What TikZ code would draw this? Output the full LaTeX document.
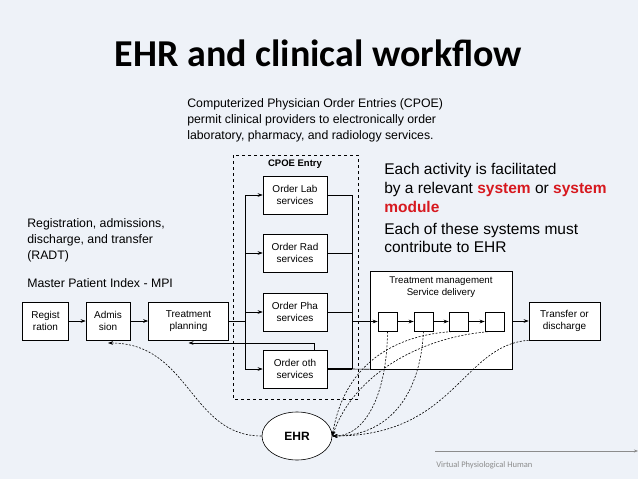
\documentclass[tikz,border=0pt]{standalone}
\usepackage{fontspec}
\setmainfont{Liberation Sans}
\newfontfamily\slidefont{Carlito}
\usepackage{xcolor}
\definecolor{slidebg}{HTML}{EEF2F8}
\definecolor{hilite}{HTML}{D7191F}
\definecolor{footgrey}{HTML}{8C8C8C}
\usetikzlibrary{positioning,calc,arrows.meta,shapes.geometric}

\begin{document}
\begin{tikzpicture}[x=1pt,y=-1pt,line width=0.6pt,
  box/.style={draw,fill=white,minimum height=38pt,align=center,inner sep=1pt,font=\fontsize{10}{12}\selectfont},
  sq/.style={draw,fill=white,minimum width=19pt,minimum height=19pt,inner sep=0pt},
  arr/.style={-{Stealth[length=5pt,width=3.6pt]}},
  link/.style={dash pattern=on 2pt off 1.5pt,-{Stealth[length=5pt,width=3.6pt]}},
  txt/.style={align=left,inner sep=0pt,anchor=north west,font=\fontsize{12.3}{16.3}\selectfont}]
  \useasboundingbox (0,0) rectangle (638,479);
  \fill[slidebg] (0,0) rectangle (638,479);

  % headings and notes
  \node[anchor=base,font=\slidefont\bfseries\fontsize{38}{40}\selectfont] (title) at (318.5,66) {EHR and clinical workflow};
  \node[txt] (cpoenote) at (187,98) {Computerized Physician Order Entries (CPOE)\\permit clinical providers to electronically order\\laboratory, pharmacy, and radiology services.};
  \node[txt] (radt) at (27,218) {Registration, admissions,\\discharge, and transfer\\(RADT)};
  \node[txt,anchor=base west] (mpi) at (27,287) {Master Patient Index - MPI};
  \node[txt,font=\fontsize{15.5}{19}\selectfont] (facil) at (384,162.7) {Each activity is facilitated\\by a relevant \textcolor{hilite}{\bfseries system} or \textcolor{hilite}{\bfseries system}\\\textcolor{hilite}{\bfseries module}};
  \node[txt,font=\fontsize{15.5}{18.5}\selectfont] (contrib) at (384,222.7) {Each of these systems must\\contribute to EHR};

  % CPOE frame
  \draw[dashed,line width=0.5pt] (233,155) rectangle (358,399);
  \node[anchor=base,font=\bfseries\fontsize{9.5}{11}\selectfont] (cpoelbl) at (295,166) {CPOE Entry};

  % workflow boxes
  \node[box,minimum width=46pt] (reg) at (45.5,321) {Regist\\ration};
  \node[box,minimum width=44pt] (adm) at (108,321) {Admis\\sion};
  \node[box,minimum width=80pt] (tp) at (188.5,321) {Treatment\\planning};
  \node[box,minimum width=64pt] (lab) at (295,195) {Order Lab\\services};
  \node[box,minimum width=64pt] (rad) at (295,253) {Order Rad\\services};
  \node[box,minimum width=64pt] (pha) at (295,312) {Order Pha\\services};
  \node[box,minimum width=64pt] (oth) at (295,369) {Order oth\\services};
  \node[draw,fill=white,minimum width=142pt,minimum height=98pt] (tm) at (441,320) {};
  \node[anchor=north,align=center,inner sep=0pt,font=\fontsize{9.7}{12}\selectfont] (tmlbl) at (441,277) {Treatment management\\Service delivery};
  \foreach \n/\x in {b1/387.5,b2/423.5,b3/458.5,b4/494.5}
    \node[sq] (\n) at (\x,321.5) {};
  \node[box,minimum width=71pt] (tr) at (564.5,321) {Transfer or\\discharge};
  \node[draw,fill=white,ellipse,minimum width=70pt,minimum height=48pt,font=\bfseries\fontsize{12}{14}\selectfont] (ehr) at (297,436) {EHR};

  % buses
  \coordinate (lbus) at (245,0);
  \coordinate (rbus) at (352,0);
  \coordinate (back) at (314,343);

  \draw[arr] (reg) -- (adm);
  \draw[arr] (adm) -- (tp);
  \draw (tp.east) -- (tp.east -| lbus);
  \draw (lab.west -| lbus) -- (oth.west -| lbus);
  \foreach \o in {lab,rad,pha,oth} \draw[arr] (\o.west -| lbus) -- (\o.west);
  \foreach \o in {lab,rad,pha} \draw (\o.east) -- (\o.east -| rbus);
  \draw (lab.east -| rbus) -- (oth.east -| rbus);
  \draw[line width=1.4pt] (oth.east) -- (oth.east -| rbus);
  \draw (oth.east -| rbus) -- (tm.south west);
  \draw[arr] (b1.west -| rbus) -- (b1.west);
  \foreach \a/\b in {b1/b2,b2/b3,b3/b4} \draw[arr] (\a) -- (\b);
  \draw[arr] (tm.east |- tr.west) -- (tr.west);
  \draw[arr] (oth.north -| back) -- (back) -- (back -| tp.south);

  % links with the EHR
  \draw[link] (ehr.west) .. controls (190,436) and (190,343) .. (adm.south |- back);
  \draw[link] (b1.south) .. controls (387,395) and (365,436) .. (ehr.east);
  \draw[link] (b2.south) .. controls (420,400) and (385,436) .. (ehr.east);
  \draw[link] (b3.south) .. controls (400,333) and (345,360) .. (ehr.east);
  \draw[link] (b4.south) .. controls (425,335) and (355,372) .. (ehr.east);
  \draw[link] (tr.south west) .. controls (462,345) and (455,436) .. (ehr.east);

  % footer
  \coordinate (footl) at (435,451);
  \coordinate (footr) at (638,451);
  \draw[footgrey,line width=0.5pt,-{Stealth[length=4pt,width=3pt]}] (footl) -- (footr);
  \node[anchor=base west,inner sep=0pt,text=footgrey,font=\slidefont\fontsize{8.5}{10}\selectfont] (foot) at (436,467) {Virtual Physiological Human};
\end{tikzpicture}
\end{document}
